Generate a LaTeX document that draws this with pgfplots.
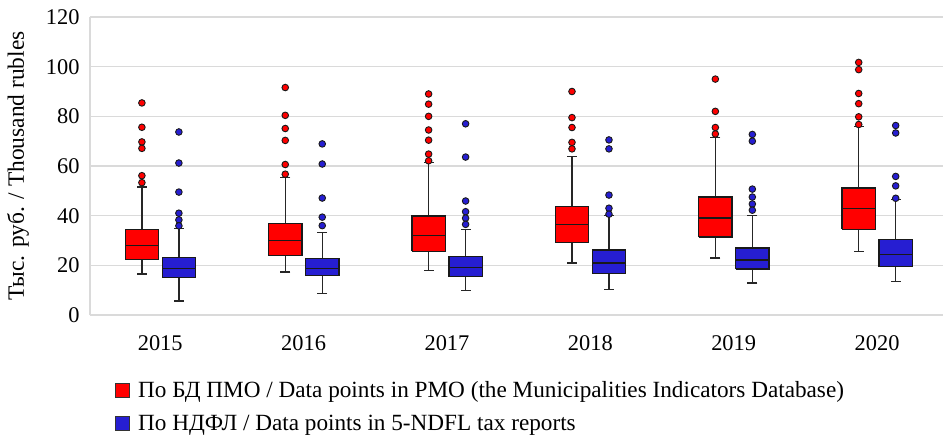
\documentclass[border=0pt]{standalone}
\usepackage{fontspec}
\setmainfont{Liberation Serif}
\usepackage{pgfplots}
\usepackage{pgfplotstable}
\pgfplotsset{compat=1.18}
\definecolor{pmored}{RGB}{255,0,0}
\definecolor{ndflblue}{RGB}{38,30,210}
\definecolor{gridgray}{RGB}{218,218,218}
% x = draw position, lw/uw = whiskers, q1/q3 = quartiles, med = median
\pgfplotstableread{
x      lw    q1    med   q3    uw
-0.128 16.5  22.3  28.0  34.3  51.6
0.872  17.3  23.9  30.1  36.9  55.4
1.872  17.9  25.7  32.0  39.9  61.4
2.872  20.9  29.2  36.4  43.6  63.7
3.872  23.0  31.4  39.0  47.5  71.5
4.872  25.7  34.5  42.8  51.2  76.0
}\redstats
\pgfplotstableread{
x      lw    q1    med   q3    uw
0.13   5.6   15.1  18.6  23.1  34.8
1.13   8.6   15.8  18.7  22.7  33.3
2.13   9.9   15.5  19.0  23.5  34.4
3.13   10.2  16.6  20.9  26.2  40.0
4.13   12.9  18.5  22.2  27.0  40.0
5.13   13.5  19.5  24.5  30.4  46.6
}\bluestats
\pgfplotstableread{
x      y
-0.128 85.4
-0.128 75.6
-0.128 69.7
-0.128 67.1
-0.128 56.1
-0.128 53.3
0.872  91.6
0.872  80.4
0.872  75.1
0.872  70.3
0.872  60.6
0.872  56.7
1.872  89.0
1.872  84.9
1.872  80.0
1.872  74.5
1.872  70.4
1.872  64.8
1.872  62.1
2.872  90.0
2.872  79.5
2.872  75.5
2.872  69.5
2.872  66.9
3.872  95.0
3.872  82.0
3.872  75.5
3.872  72.9
4.872  101.7
4.872  98.8
4.872  89.2
4.872  85.1
4.872  79.8
4.872  76.7
}\redout
\pgfplotstableread{
x      y
0.13   73.7
0.13   61.2
0.13   49.5
0.13   41.0
0.13   38.3
0.13   35.9
1.13   68.9
1.13   60.8
1.13   47.1
1.13   39.4
1.13   36.0
2.13   77.0
2.13   63.6
2.13   45.9
2.13   41.6
2.13   39.0
2.13   36.5
3.13   70.5
3.13   66.9
3.13   48.3
3.13   43.0
3.13   40.6
4.13   72.7
4.13   70.0
4.13   50.7
4.13   47.5
4.13   44.7
4.13   42.2
5.13   76.3
5.13   73.3
5.13   55.8
5.13   52.0
5.13   47.0
}\blueout
\begin{document}
\begin{tikzpicture}
\begin{axis}[
  scale only axis,
  width=853bp, height=298bp,
  xmin=-0.49, xmax=5.46,
  ymin=0, ymax=120,
  ytick={0,20,...,120},
  xtick={0,1,2,3,4,5},
  xticklabels={2015,2016,2017,2018,2019,2020},
  major tick length=0pt,
  axis lines*=left,
  axis line style={draw=gridgray, line width=1.2bp},
  ymajorgrids,
  major grid style={draw=gridgray, line width=1.2bp},
  /pgf/number format/assume math mode=true,
  tick label style={font=\fontsize{22.5}{26}\selectfont},
  yticklabel style={xshift=-7bp},
  xticklabel style={yshift=-17bp},
  ylabel={Тыс. руб. / Thousand rubles},
  ylabel style={font=\fontsize{23.5}{27}\selectfont, yshift=10bp},
  legend style={draw=none, fill=none, at={(0.025,-0.21)}, anchor=north west,
    font=\fontsize{23.3}{27}\selectfont, cells={anchor=west}, row sep=12bp},
  unbounded coords=jump,
]
\addlegendimage{legend image code/.code={\draw[fill=pmored, draw=black!80, line width=1bp] (0bp,-7bp) rectangle (14bp,7bp); \path (21bp,0bp);}}
\addlegendentry{По БД ПМО / Data points in PMO (the Municipalities Indicators Database)}
\addlegendimage{legend image code/.code={\draw[fill=ndflblue, draw=black!80, line width=1bp] (0bp,-7bp) rectangle (14bp,7bp); \path (21bp,0bp);}}
\addlegendentry{По НДФЛ / Data points in 5-NDFL tax reports}

% whisker lines (lower whisker to upper whisker)
\addplot[forget plot, draw=black!85, line width=1.3bp, mark=none] coordinates {
(-0.128,16.5) (-0.128,51.6) (nan,nan)
(0.872,17.3) (0.872,55.4) (nan,nan)
(1.872,17.9) (1.872,61.4) (nan,nan)
(2.872,20.9) (2.872,63.7) (nan,nan)
(3.872,23.0) (3.872,71.5) (nan,nan)
(4.872,25.7) (4.872,76.0)
};
\addplot[forget plot, draw=black!85, line width=1.3bp, mark=none] coordinates {
(0.13,5.6) (0.13,34.8) (nan,nan)
(1.13,8.6) (1.13,33.3) (nan,nan)
(2.13,9.9) (2.13,34.4) (nan,nan)
(3.13,10.2) (3.13,40.0) (nan,nan)
(4.13,12.9) (4.13,40.0) (nan,nan)
(5.13,13.5) (5.13,46.6)
};
% whisker caps
\addplot[forget plot, only marks, mark=-, mark size=5bp, mark options={draw=black!85, line width=1.3bp}] table[x=x, y=lw] {\redstats};
\addplot[forget plot, only marks, mark=-, mark size=5bp, mark options={draw=black!85, line width=1.3bp}] table[x=x, y=uw] {\redstats};
\addplot[forget plot, only marks, mark=-, mark size=5bp, mark options={draw=black!85, line width=1.3bp}] table[x=x, y=lw] {\bluestats};
\addplot[forget plot, only marks, mark=-, mark size=5bp, mark options={draw=black!85, line width=1.3bp}] table[x=x, y=uw] {\bluestats};

% boxes (lower quartile to upper quartile)
\addplot[forget plot, fill=pmored, draw=black!90, line width=1.3bp, mark=none, line join=miter] coordinates {
(-0.244,22.3) (-0.012,22.3) (-0.012,34.3) (-0.244,34.3) (-0.244,22.3) (nan,nan)
(0.756,23.9) (0.988,23.9) (0.988,36.9) (0.756,36.9) (0.756,23.9) (nan,nan)
(1.756,25.7) (1.988,25.7) (1.988,39.9) (1.756,39.9) (1.756,25.7) (nan,nan)
(2.756,29.2) (2.988,29.2) (2.988,43.6) (2.756,43.6) (2.756,29.2) (nan,nan)
(3.756,31.4) (3.988,31.4) (3.988,47.5) (3.756,47.5) (3.756,31.4) (nan,nan)
(4.756,34.5) (4.988,34.5) (4.988,51.2) (4.756,51.2) (4.756,34.5)
};
\addplot[forget plot, fill=ndflblue, draw=black!90, line width=1.3bp, mark=none, line join=miter] coordinates {
(0.014,15.1) (0.246,15.1) (0.246,23.1) (0.014,23.1) (0.014,15.1) (nan,nan)
(1.014,15.8) (1.246,15.8) (1.246,22.7) (1.014,22.7) (1.014,15.8) (nan,nan)
(2.014,15.5) (2.246,15.5) (2.246,23.5) (2.014,23.5) (2.014,15.5) (nan,nan)
(3.014,16.6) (3.246,16.6) (3.246,26.2) (3.014,26.2) (3.014,16.6) (nan,nan)
(4.014,18.5) (4.246,18.5) (4.246,27.0) (4.014,27.0) (4.014,18.5) (nan,nan)
(5.014,19.5) (5.246,19.5) (5.246,30.4) (5.014,30.4) (5.014,19.5)
};
% medians
\addplot[forget plot, only marks, mark=-, mark size=16.6bp, mark options={draw=black!90, line width=1.3bp}] table[x=x, y=med] {\redstats};
\addplot[forget plot, only marks, mark=-, mark size=16.6bp, mark options={draw=black!90, line width=1.3bp}] table[x=x, y=med] {\bluestats};
% outliers
\addplot[forget plot, only marks, mark=*, mark size=3.3bp, mark options={fill=pmored, draw=black!90, line width=0.9bp}] table[x=x, y=y] {\redout};
\addplot[forget plot, only marks, mark=*, mark size=3.3bp, mark options={fill=ndflblue, draw=black!90, line width=0.9bp}] table[x=x, y=y] {\blueout};
\end{axis}
\pgfresetboundingbox
\path[use as bounding box] (-90bp,-120bp) rectangle (853bp,315bp);
\end{tikzpicture}
\end{document}
